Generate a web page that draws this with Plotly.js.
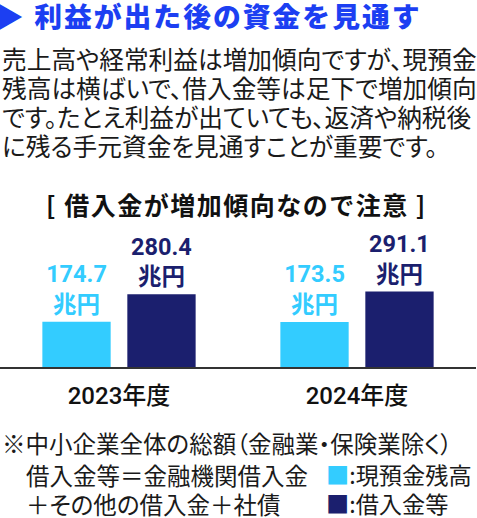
<!DOCTYPE html>
<html><head><meta charset="utf-8">
<script src="https://cdn.plot.ly/plotly-3.0.1.min.js"></script>
<style>html,body{margin:0;padding:0;background:#fff;}#chart{width:477px;height:518px;}</style>
</head><body><div id="chart"></div>
<script>
const categories = ['2023年度', '2024年度'];
const seriesNames = ['現預金残高', '借入金等'];
const cashBalance = [174.7, 173.5];
const borrowings = [280.4, 291.1];
const unitLabel = '兆円';

const headline = '▶ 利益が出た後の資金を見通す';
const bodyLines = [
  '売上高や経常利益は増加傾向ですが、現預金',
  '残高は横ばいで、借入金等は足下で増加傾向',
  'です。たとえ利益が出ていても、返済や納税後',
  'に残る手元資金を見通すことが重要です。'
];
const chartTitle = '[ 借入金が増加傾向なので注意 ]';
const noteLines = [
  '※中小企業全体の総額（金融業・保険業除く）',
  '借入金等＝金融機関借入金',
  '＋その他の借入金＋社債'
];

const colors = ['#33ccff', '#1b1f6e'];
const CJK = '"Noto Sans CJK JP", sans-serif';
const NUM = 'Roboto, "Noto Sans CJK JP", sans-serif';
const palt = t => '<span style="font-feature-settings:\'palt\' 1">' + t + '</span>';
const spaced = (t, s) => '<span style="letter-spacing:' + s + 'px">' + t + '</span>';

function barTrace(name, vals, color) {
  return {
    type: 'bar', name: name, x: categories, y: vals,
    marker: {color: color, line: {width: 0}},
    texttemplate: '%{y:.1f}<br>' + unitLabel,
    textposition: 'outside', cliponaxis: false, constraintext: 'none',
    textfont: {family: NUM, size: 23.5, color: color, weight: 'bold'},
    hoverinfo: 'skip'
  };
}
const data = [barTrace(seriesNames[0], cashBalance, colors[0]), barTrace(seriesNames[1], borrowings, colors[1])];

// paper y from pixel: plot area bottom at 367px, height 142px
const py = p => (367 - p) / 142;
const ann = [];
ann.push({text: spaced(headline, 2.0), x: -6 / 476, y: py(15.5), xref: 'paper', yref: 'paper', xanchor: 'left', yanchor: 'middle', showarrow: false,
  font: {family: CJK, size: 27.8, color: '#1c3ff2', weight: 900}});
const bodyY = [57.5, 86.5, 116, 145];
bodyLines.forEach((t, i) => ann.push({text: palt(t), x: 0, y: py(bodyY[i]), xref: 'paper', yref: 'paper', xanchor: 'left', yanchor: 'middle', showarrow: false,
  font: {family: CJK, size: 24.7, color: '#1a1a1a'}}));
ann.push({text: spaced(chartTitle, 1.5), x: 236.5 / 476, y: py(204), xref: 'paper', yref: 'paper', xanchor: 'center', yanchor: 'middle', showarrow: false,
  font: {family: CJK, size: 25, color: '#111', weight: 'bold'}});
const noteY = [443, 475, 503.5];
const noteX = [0, 24, 24];
noteLines.forEach((t, i) => ann.push({text: palt(t), x: noteX[i] / 476, y: py(noteY[i]), xref: 'paper', yref: 'paper', xanchor: 'left', yanchor: 'middle', showarrow: false,
  font: {family: CJK, size: 23.5, color: '#1a1a1a'}}));
const legY = [474, 503];
seriesNames.forEach((n, i) => ann.push({text: '<span style="color:' + colors[i] + '">■</span>:' + n, x: 324 / 476, y: py(legY[i]), xref: 'paper', yref: 'paper', xanchor: 'left', yanchor: 'middle', showarrow: false,
  font: {family: CJK, size: 23.2, color: '#1a1a1a'}}));

const layout = {
  width: 477, height: 518,
  margin: {l: 0, r: 1, t: 225, b: 151, pad: 0},
  paper_bgcolor: '#fff', plot_bgcolor: '#fff',
  showlegend: false,
  barmode: 'group', bargap: 0.286, bargroupgap: 0.196,
  xaxis: {type: 'category', range: [-0.5, 1.5], showline: true, linecolor: '#333', linewidth: 2, ticks: '', showgrid: false, zeroline: false,
    ticklabelstandoff: 6,
    tickfont: {family: NUM, size: 24, color: '#111', weight: 500}, fixedrange: true},
  yaxis: {visible: false, range: [0, 548], showgrid: false, zeroline: false, fixedrange: true},
  annotations: ann
};
Plotly.newPlot('chart', data, layout, {displayModeBar: false, staticPlot: true});
</script></body></html>
